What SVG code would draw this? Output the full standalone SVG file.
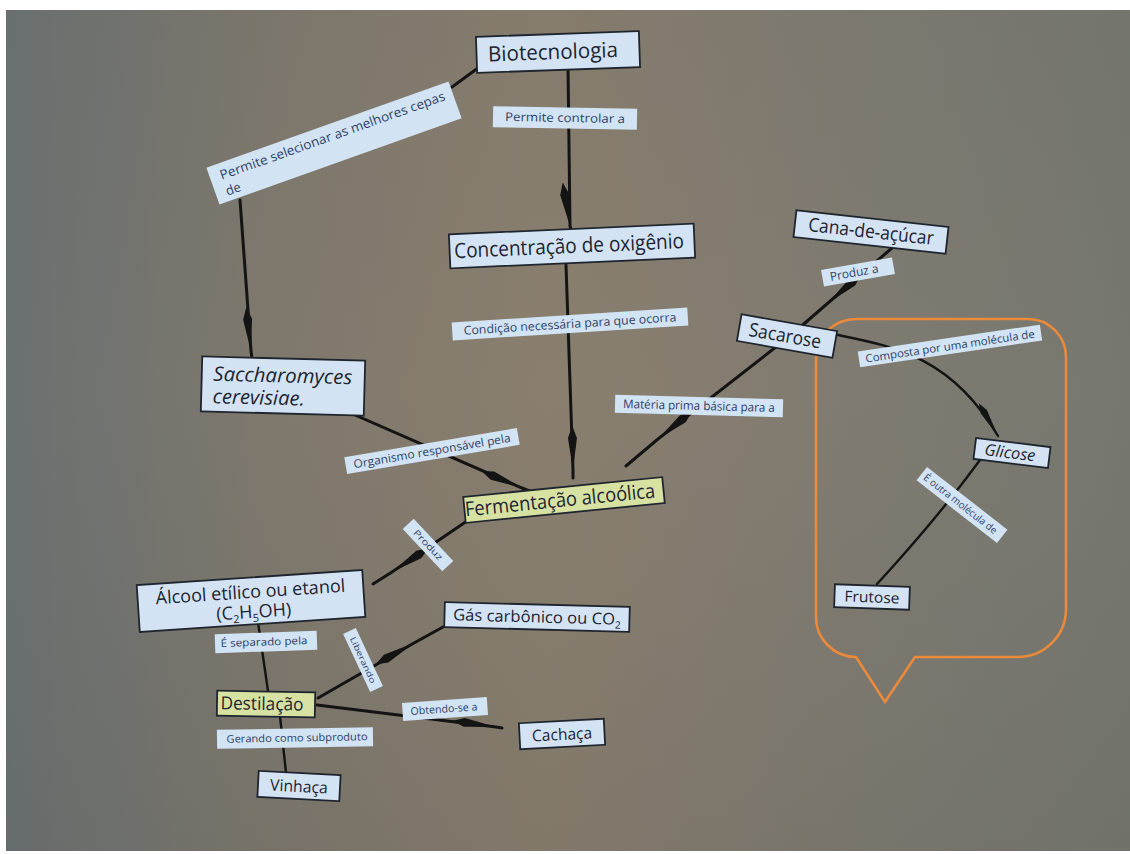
<svg xmlns="http://www.w3.org/2000/svg" width="1130" height="854" viewBox="0 0 1130 854">
  <defs>
    <linearGradient id="paper" x1="0" y1="0" x2="1" y2="0">
      <stop offset="0" stop-color="#6a7171"/>
      <stop offset="0.22" stop-color="#7e786d"/>
      <stop offset="0.48" stop-color="#8a7f6e"/>
      <stop offset="0.75" stop-color="#807b71"/>
      <stop offset="1" stop-color="#76786f"/>
    </linearGradient>
    <linearGradient id="shade" x1="0" y1="0" x2="0" y2="1">
      <stop offset="0" stop-color="#5a5f60" stop-opacity="0.10"/>
      <stop offset="0.45" stop-color="#5a5f60" stop-opacity="0"/>
      <stop offset="1" stop-color="#4a4e4e" stop-opacity="0.14"/>
    </linearGradient>
    <marker id="spear" viewBox="0 -5 46 10" refX="44" refY="0" markerWidth="46" markerHeight="10" markerUnits="userSpaceOnUse" orient="auto">
      <path d="M0,0 L12,-4.5 L44,0 L12,4.5 Z" fill="#141414"/>
    </marker>
    <marker id="spearEnd" viewBox="0 -5 40 10" refX="38" refY="0" markerWidth="40" markerHeight="10" markerUnits="userSpaceOnUse" orient="auto">
      <path d="M0,0 L10,-3.5 L38,0 L10,3.5 Z" fill="#141414"/>
    </marker>
    <style>
      .node rect { fill: #d3e3f3; stroke: #1f252e; stroke-width: 1.8; }
      .node.yellow rect { fill: #d7e1a2; }
      .node text { font-family: "Open Sans", "Noto Sans", sans-serif; fill: #1c2430; text-anchor: middle; }
      .label rect { fill: #d2e3f4; stroke: none; }
      .label text { font-family: "Open Sans", "Noto Sans", sans-serif; fill: #2e3f66; text-anchor: middle; }
      .conn { fill: none; stroke: #141414; stroke-width: 3; stroke-linecap: round; }
      .conn.thin { stroke-width: 2.4; }
      .callout { fill: none; stroke: #ec8a3c; stroke-width: 2.6; }
    </style>
  </defs>

  <!-- paper sheet -->
  <rect x="0" y="0" width="1130" height="854" fill="#ffffff"/>
  <rect x="6" y="10" width="1124" height="841" fill="url(#paper)"/>
  <rect x="6" y="10" width="1124" height="841" fill="url(#shade)"/>

  <!-- highlight around the sugar breakdown -->
  <path class="callout" d="M856,319 H1028 A38,38 0 0 1 1066,357 V609 A48,48 0 0 1 1018,657 H915 L885,702 L856,657 A40,40 0 0 1 816,617 V359 A40,40 0 0 1 856,319 Z"/>

  <!-- connectors -->
  <g id="connectors">
    <path class="conn" d="M478,68 L452,87"/>
    <path class="conn" d="M240,200 L251,351 L252,358" marker-mid="url(#spear)"/>
    <path class="conn" d="M568,66 L570,226 L571,229" marker-mid="url(#spear)"/>
    <path class="conn" d="M566,265 L573,470 L573,478" marker-mid="url(#spear)"/>
    <path class="conn" d="M355,415 L522,488 L542,496" marker-mid="url(#spear)"/>
    <path class="conn" d="M892,248 L828,303 L790,336" marker-mid="url(#spear)"/>
    <path class="conn" d="M790,336 L658,439 L626,466" marker-mid="url(#spear)"/>
    <path class="conn thin" d="M833,334 C890,346 950,354 998,436" marker-end="url(#spearEnd)"/>
    <path class="conn thin" d="M980,460 Q936,520 877,584"/>
    <path class="conn" d="M467,521 L392,572 L373,584" marker-mid="url(#spear)"/>
    <path class="conn thin" d="M258,622 L268,691"/>
    <path class="conn" d="M318,698 L414,643 L443,627" marker-mid="url(#spear)"/>
    <path class="conn" d="M317,705 L496,727 L502,728" marker-mid="url(#spear)"/>
    <path class="conn thin" d="M280,716 L286,773"/>
  </g>

  <!-- linking phrases -->
  <g id="lbl-selecionar" class="label" transform="translate(334 143) rotate(-19.6)">
    <rect x="-128.5" y="-19.5" width="257" height="39"/>
    <text x="-118" y="-3" font-size="13" textLength="238" lengthAdjust="spacingAndGlyphs" style="text-anchor:start">Permite selecionar as melhores cepas</text>
    <text x="-118" y="14" font-size="13" style="text-anchor:start">de</text>
  </g>
  <g id="lbl-controlar" class="label" transform="translate(565 118) rotate(1)">
    <rect x="-72" y="-10.5" width="144" height="21"/>
    <text x="0" y="4" font-size="12" textLength="120" lengthAdjust="spacingAndGlyphs">Permite controlar a</text>
  </g>
  <g id="lbl-condicao" class="label" transform="translate(570 324) rotate(-3.6)">
    <rect x="-118" y="-9" width="236" height="18"/>
    <text x="0" y="4" font-size="12" textLength="213" lengthAdjust="spacingAndGlyphs">Condição necessária para que ocorra</text>
  </g>
  <g id="lbl-organismo" class="label" transform="translate(432 451) rotate(-9.6)">
    <rect x="-87.5" y="-8.5" width="175" height="17"/>
    <text x="0" y="4" font-size="11.5" textLength="159" lengthAdjust="spacingAndGlyphs">Organismo responsável pela</text>
  </g>
  <g id="lbl-materia" class="label" transform="translate(699 406) rotate(1.5)">
    <rect x="-84" y="-9" width="168" height="18"/>
    <text x="0" y="4" font-size="12" textLength="152" lengthAdjust="spacingAndGlyphs">Matéria prima básica para a</text>
  </g>
  <g id="lbl-produz-a" class="label" transform="translate(858 272) rotate(-10)">
    <rect x="-36" y="-8.5" width="72" height="17"/>
    <text x="-4" y="4" font-size="12" textLength="49" lengthAdjust="spacingAndGlyphs">Produz a</text>
  </g>
  <g id="lbl-composta" class="label" transform="translate(950 346) rotate(-8.4)">
    <rect x="-92" y="-8" width="184" height="16"/>
    <text x="0" y="4" font-size="11" textLength="171" lengthAdjust="spacingAndGlyphs">Composta por uma molécula de</text>
  </g>
  <g id="lbl-outra" class="label" transform="translate(962 505) rotate(38)">
    <rect x="-51" y="-8.5" width="102" height="17"/>
    <text x="-2" y="3.5" font-size="10" textLength="90" lengthAdjust="spacingAndGlyphs">É outra molécula de</text>
  </g>
  <g id="lbl-produz" class="label" transform="translate(428 545) rotate(47)">
    <rect x="-29" y="-7.5" width="58" height="15"/>
    <text x="0" y="3" font-size="9" textLength="38" lengthAdjust="spacingAndGlyphs">Produz</text>
  </g>
  <g id="lbl-separado" class="label" transform="translate(266 642) rotate(-2)">
    <rect x="-51" y="-9.5" width="102" height="19"/>
    <text x="-2" y="3.5" font-size="10.5" textLength="87" lengthAdjust="spacingAndGlyphs">É separado pela</text>
  </g>
  <g id="lbl-liberando" class="label" transform="translate(363 660) rotate(65)">
    <rect x="-32" y="-7" width="64" height="14"/>
    <text x="0" y="3" font-size="8" textLength="50" lengthAdjust="spacingAndGlyphs">Liberando</text>
  </g>
  <g id="lbl-obtendo" class="label" transform="translate(445 709) rotate(-4)">
    <rect x="-42.5" y="-9" width="85" height="18"/>
    <text x="-1" y="3.5" font-size="10.5" textLength="67" lengthAdjust="spacingAndGlyphs">Obtendo-se a</text>
  </g>
  <g id="lbl-gerando" class="label" transform="translate(295 738) rotate(-1)">
    <rect x="-78" y="-9.5" width="156" height="19"/>
    <text x="2" y="3.5" font-size="10.5" textLength="141" lengthAdjust="spacingAndGlyphs">Gerando como subproduto</text>
  </g>

  <!-- concepts -->
  <g id="biotecnologia" class="node" transform="translate(558 52) rotate(-2)">
    <rect x="-81.5" y="-18" width="163" height="36"/>
    <text x="-5" y="7" font-size="21" textLength="130" lengthAdjust="spacingAndGlyphs">Biotecnologia</text>
  </g>
  <g id="concentracao" class="node" transform="translate(572 246) rotate(-2.5)">
    <rect x="-122.5" y="-17" width="245" height="34"/>
    <text x="-3" y="7" font-size="21" textLength="230" lengthAdjust="spacingAndGlyphs">Concentração de oxigênio</text>
  </g>
  <g id="saccharomyces" class="node" transform="translate(283 386) rotate(1.5)">
    <rect x="-81.5" y="-27.5" width="163" height="55"/>
    <text x="-70" y="-3.5" font-size="20" font-style="italic" textLength="139" lengthAdjust="spacingAndGlyphs" style="text-anchor:start">Saccharomyces</text>
    <text x="-70" y="19" font-size="20" font-style="italic" textLength="92" lengthAdjust="spacingAndGlyphs" style="text-anchor:start">cerevisiae.</text>
  </g>
  <g id="fermentacao" class="node yellow" transform="translate(564 500) rotate(-5.7)">
    <rect x="-100" y="-13" width="200" height="26"/>
    <text x="-4" y="6.5" font-size="20" textLength="191" lengthAdjust="spacingAndGlyphs">Fermentação alcoólica</text>
  </g>
  <g id="cana" class="node" transform="translate(871 232) rotate(6.3)">
    <rect x="-76.5" y="-13.5" width="153" height="27"/>
    <text x="0" y="6" font-size="19" textLength="126" lengthAdjust="spacingAndGlyphs">Cana-de-açúcar</text>
  </g>
  <g id="sacarose" class="node" transform="translate(787 336) rotate(10)">
    <rect x="-48.5" y="-13.5" width="97" height="27"/>
    <text x="-2" y="6.5" font-size="19" textLength="73" lengthAdjust="spacingAndGlyphs">Sacarose</text>
  </g>
  <g id="glicose" class="node" transform="translate(1012 453) rotate(7)">
    <rect x="-37.5" y="-10.5" width="75" height="21"/>
    <text x="-2" y="5.5" font-size="16" font-style="italic" textLength="51" lengthAdjust="spacingAndGlyphs">Glicose</text>
  </g>
  <g id="frutose" class="node" transform="translate(872 597) rotate(2)">
    <rect x="-37.5" y="-11.5" width="75" height="23"/>
    <text x="0" y="5.5" font-size="15" textLength="55" lengthAdjust="spacingAndGlyphs">Frutose</text>
  </g>
  <g id="alcool" class="node" transform="translate(251 601) rotate(-3.8)">
    <rect x="-113" y="-23.5" width="226" height="47"/>
    <text x="0" y="-3" font-size="18" textLength="190" lengthAdjust="spacingAndGlyphs">Álcool etílico ou etanol</text>
    <text x="2" y="17" font-size="18">(C<tspan font-size="11" dy="4">2</tspan><tspan dy="-4">H</tspan><tspan font-size="11" dy="4">5</tspan><tspan dy="-4">OH)</tspan></text>
  </g>
  <g id="destilacao" class="node yellow" transform="translate(266 704) rotate(1)">
    <rect x="-49" y="-12.5" width="98" height="25"/>
    <text x="-4" y="6" font-size="18" textLength="83" lengthAdjust="spacingAndGlyphs">Destilação</text>
  </g>
  <g id="gas" class="node" transform="translate(537 617) rotate(1.5)">
    <rect x="-92.5" y="-12.5" width="185" height="25"/>
    <text x="0" y="5.5" font-size="16" textLength="168" lengthAdjust="spacingAndGlyphs">Gás carbônico ou CO<tspan font-size="10" dy="4">2</tspan></text>
  </g>
  <g id="cachaca" class="node" transform="translate(562 734) rotate(-3)">
    <rect x="-42.5" y="-13" width="85" height="26"/>
    <text x="0" y="6" font-size="16" textLength="60" lengthAdjust="spacingAndGlyphs">Cachaça</text>
  </g>
  <g id="vinhaca" class="node" transform="translate(299 786) rotate(3)">
    <rect x="-41" y="-13" width="82" height="26"/>
    <text x="0" y="6" font-size="16" textLength="58" lengthAdjust="spacingAndGlyphs">Vinhaça</text>
  </g>
</svg>
